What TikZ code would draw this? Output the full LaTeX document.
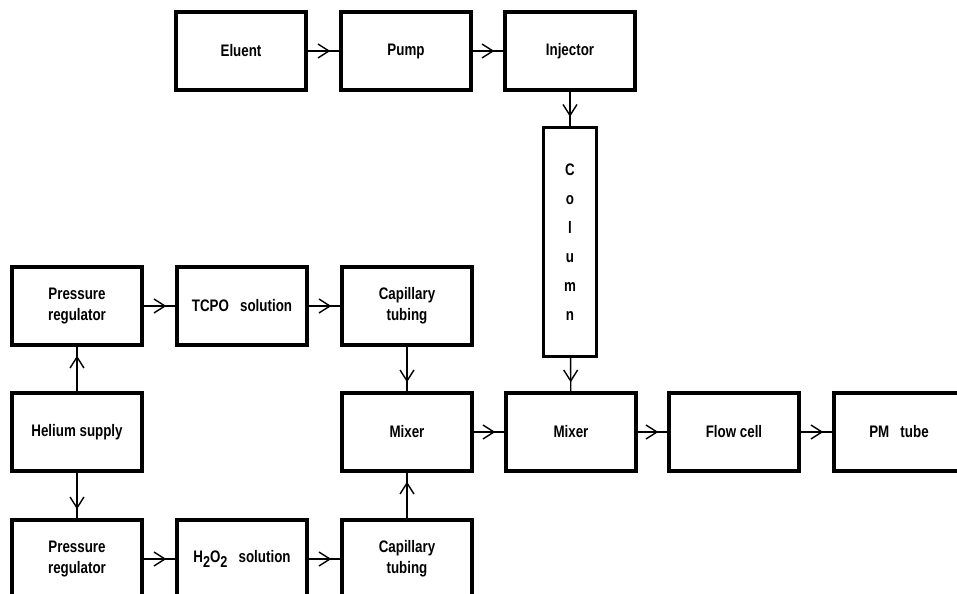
\documentclass[tikz,border=0pt]{standalone}
\usepackage{fontspec}
\setmainfont{Liberation Sans}[FakeStretch=0.8]
\usetikzlibrary{arrows.meta,decorations.markings}
\begin{document}
\begin{tikzpicture}[x=0.02cm,y=-0.02cm,
  box/.style={draw, line width=2pt, minimum width=2.6cm, minimum height=1.56cm,
    align=center, font=\fontsize{9.5}{12}\selectfont\bfseries},
  flow/.style={line width=0.8pt, postaction={decorate},
    decoration={markings, mark=at position -0.18cm with {\arrow{Straight Barb[length=2.2mm,width=2.8mm,line width=0.8pt]}}}}]
\useasboundingbox (0,0) rectangle (957,594);

% chromatograph
\node[box] (eluent) at (241,51) {Eluent};
\node[box] (pump) at (406,51) {Pump};
\node[box] (injector) at (570,51) {Injector};
\node[box, minimum width=1.06cm, minimum height=4.58cm, font=\fontsize{9.5}{16.5}\selectfont\bfseries] (column) at (570,242) {C\\o\\l\\u\\m\\n};

% reagent supply
\node[box] (preg1) at (77,306) {Pressure\\regulator};
\node[box] (tcpo) at (242,306) {TCPO~~~solution};
\node[box] (cap1) at (407,306) {Capillary\\tubing};
\node[box] (helium) at (77,432) {Helium supply};
\node[box] (mixer1) at (407,432) {Mixer};
\node[box] (preg2) at (77,559) {Pressure\\regulator};
\node[box] (hydro) at (242,559) {H\raisebox{-0.5ex}{\small 2}O\raisebox{-0.5ex}{\small 2}~~~solution};
\node[box] (cap2) at (407,559) {Capillary\\tubing};

% detection
\node[box] (mixer2) at (571,432) {Mixer};
\node[box] (cell) at (734,432) {Flow cell};
\node[box] (pmt) at (899,432) {PM~~~tube};

\draw[flow] (eluent) -- (pump);
\draw[flow] (pump) -- (injector);
\draw[flow] (injector) -- (column);
\draw[flow] (column) -- (mixer2);

\draw[flow] (helium) -- (preg1);
\draw[flow] (helium) -- (preg2);
\draw[flow] (preg1) -- (tcpo);
\draw[flow] (tcpo) -- (cap1);
\draw[flow] (preg2) -- (hydro);
\draw[flow] (hydro) -- (cap2);
\draw[flow] (cap1) -- (mixer1);
\draw[flow] (cap2) -- (mixer1);

\draw[flow] (mixer1) -- (mixer2);
\draw[flow] (mixer2) -- (cell);
\draw[flow] (cell) -- (pmt);
\end{tikzpicture}
\end{document}
